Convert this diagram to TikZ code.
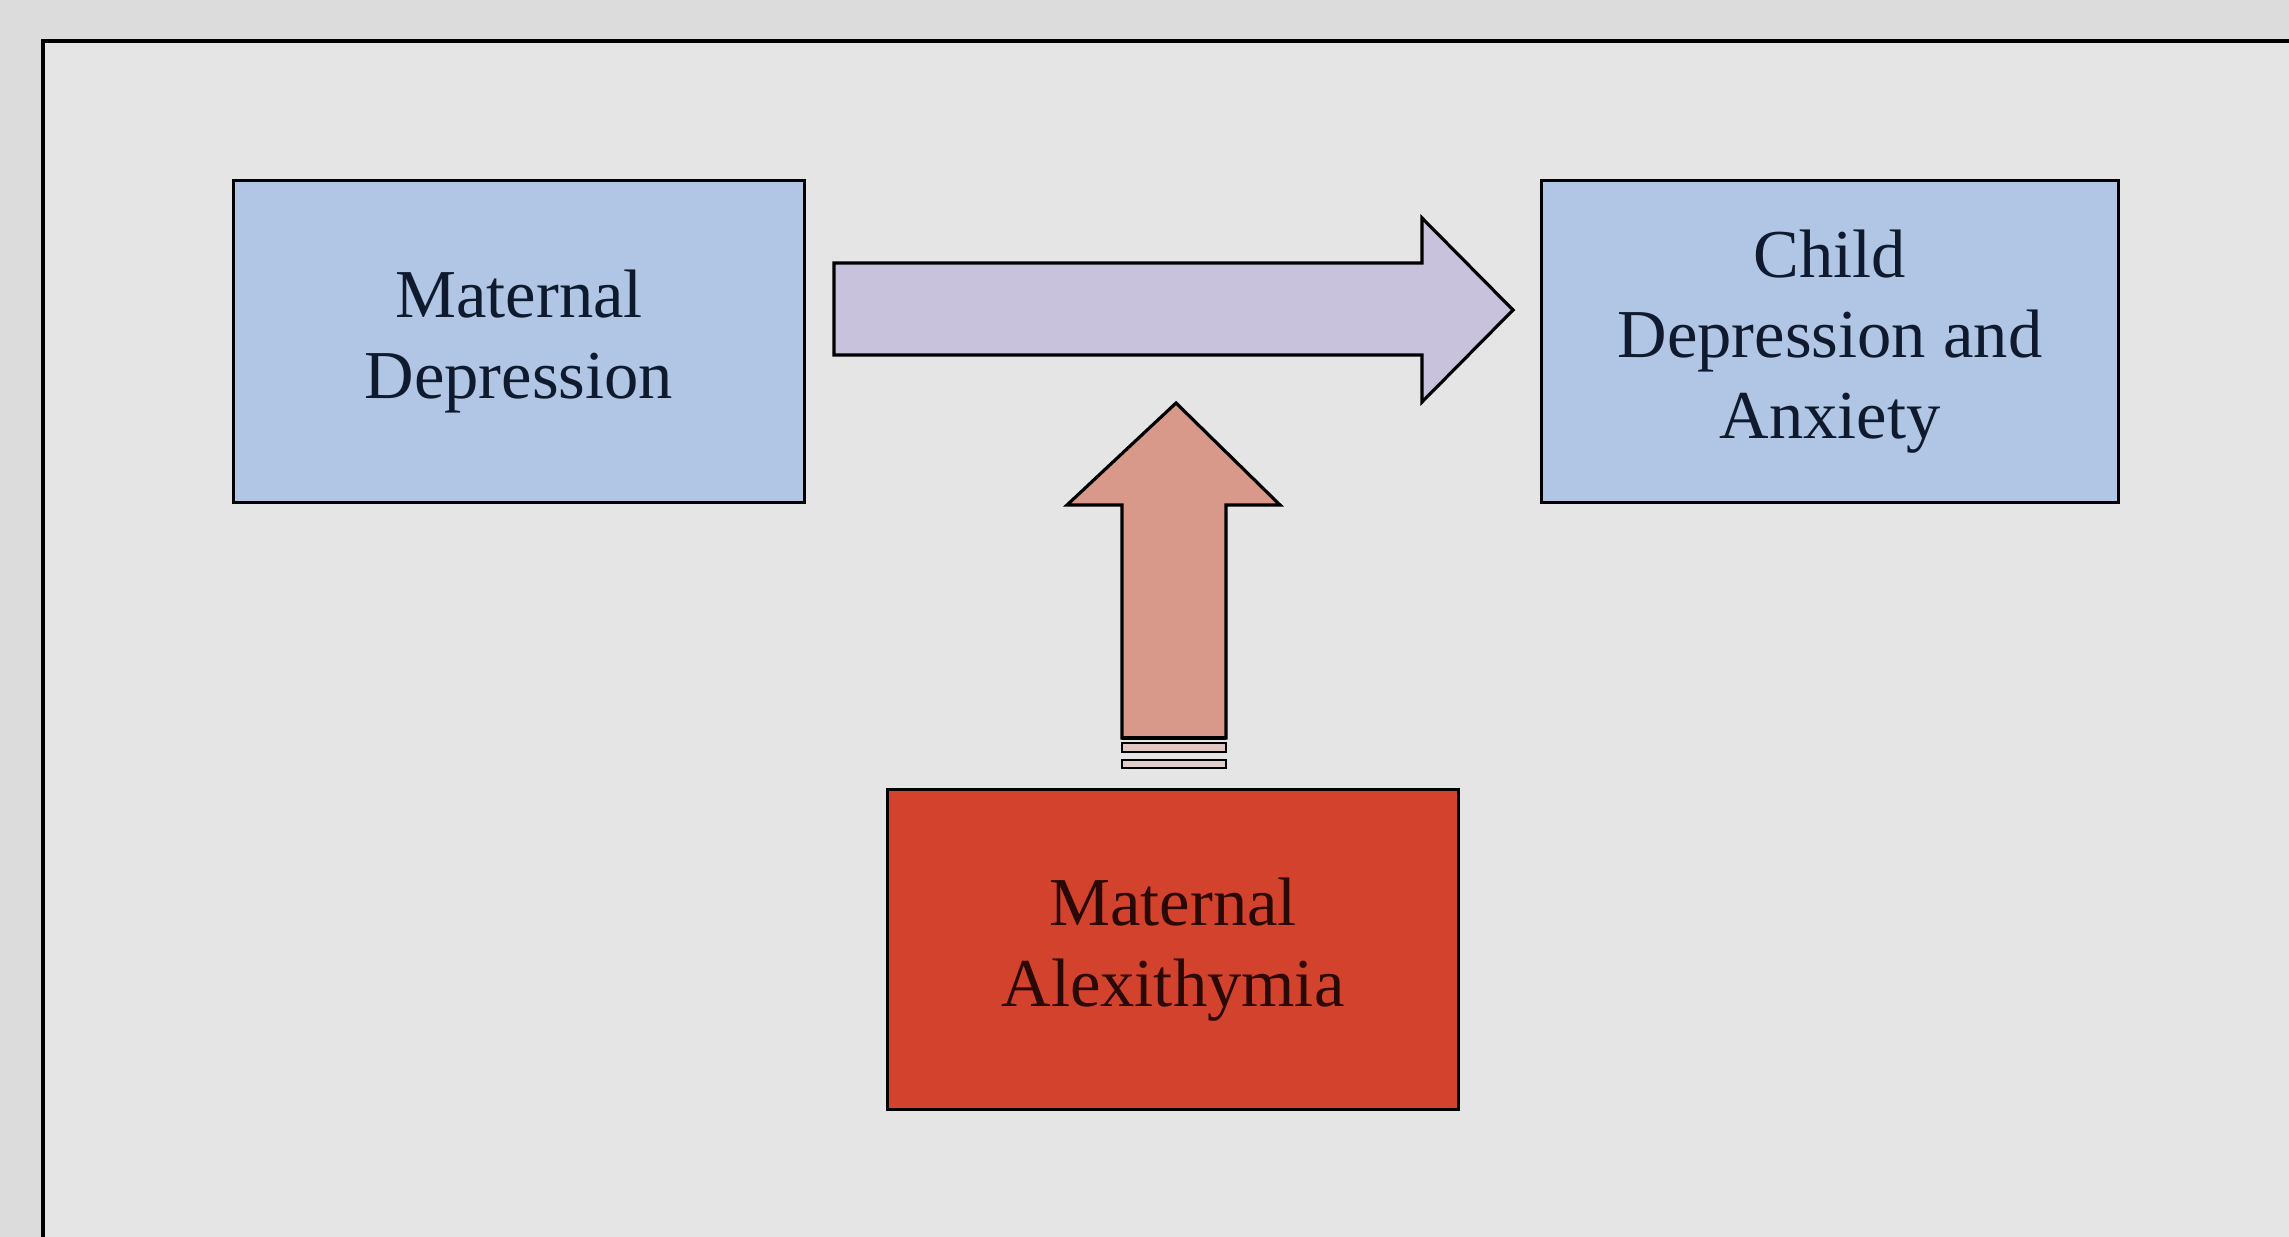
\documentclass[tikz,border=0pt]{standalone}
\usepackage{fontspec}
\setmainfont{Liberation Serif}
\definecolor{outbg}{HTML}{DCDCDC}
\definecolor{inbg}{HTML}{E5E5E5}
\definecolor{boxblue}{HTML}{B0C6E4}
\definecolor{boxred}{HTML}{D2422C}
\definecolor{arrlav}{HTML}{C9C2DC}
\definecolor{arrsal}{HTML}{D9998A}
\definecolor{txtblue}{HTML}{0F1A2E}
\definecolor{txtred}{HTML}{2A0805}
\begin{document}
\begin{tikzpicture}[x=0.01cm,y=-0.01cm,
  boxstyle/.style={draw=black, line width=0.9pt, minimum width=5.70cm, minimum height=3.21cm, inner sep=0pt, align=center,
    font=\fontsize{19.5}{23}\selectfont},
  arrowline/.style={draw=black, line width=0.9pt, line join=miter}]
\useasboundingbox (0,0) rectangle (2289,1237);
\fill[outbg] (0,0) rectangle (2289,1237);
\fill[inbg] (43,41) rectangle (2289,1237);
\draw[black, line width=1pt] (43,1237) -- (43,41) -- (2289,41);
\node[boxstyle, fill=boxblue, text=txtblue] (md) at (519,341.5) {Maternal\\Depression};
\node[boxstyle, fill=boxblue, text=txtblue, minimum width=5.76cm] (cd) at (1830,341.5) {Child\\Depression and\\Anxiety};
\node[boxstyle, fill=boxred, text=txtred, minimum height=3.19cm] (ma) at (1173,949.5) {Maternal\\Alexithymia};
% horizontal arrow md -> cd
\coordinate (hs) at (834,309);
\coordinate (he) at (1513,310);
\path[arrowline, fill=arrlav] (834,263) -- (1422,263) -- (1422,218) -- (he) -- (1422,402) -- (1422,355) -- (834,355) -- cycle;
% vertical arrow ma -> horizontal arrow
\coordinate (vt) at (1176,403);
\path[arrowline, fill=arrsal] (1122,738) -- (1122,505) -- (1067,505) -- (vt) -- (1280,505) -- (1226,505) -- (1226,738) -- cycle;
\draw[black, line width=1.4pt] (1122,738) -- (1226,738);
\draw[black, line width=0.8pt, fill=arrsal!40!inbg] (1122,743) rectangle (1226,752);
\draw[black, line width=0.8pt, fill=arrsal!30!inbg] (1122,760) rectangle (1226,768);
\end{tikzpicture}
\end{document}
